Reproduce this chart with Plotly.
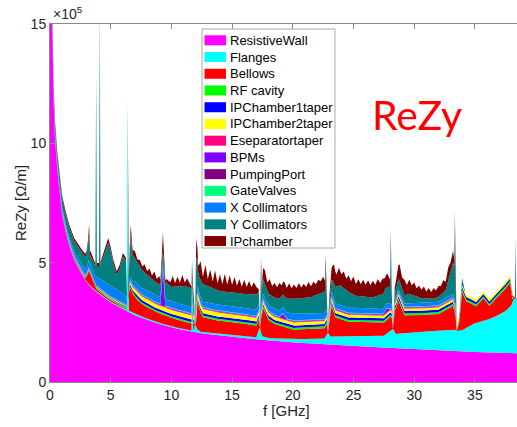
import plotly.graph_objects as go

# ---------------- data ----------------
# frequency in GHz, ReZy in units of 1e5 Ohm/m; each component has its own sampling
f_rw = [0, 0.1, 0.15, 0.2, 0.3, 0.4, 0.5, 0.6, 0.7, 0.8, 1.0, 1.3, 1.6, 2.0, 2.5, 3.0, 3.5, 4.0,
        5.0, 6.0, 7.0, 8.0, 9.0, 10, 12, 14, 16, 18, 20, 23, 26, 30, 34, 38.5]
z_rw = [20, 17, 15.2, 13.8, 11.8, 10.3, 9.5, 8.9, 8.4, 7.9, 7.0, 6.3, 5.7, 5.1, 4.6, 4.2, 3.9, 3.7,
        3.33, 3.05, 2.8, 2.6, 2.43, 2.28, 2.07, 1.95, 1.84, 1.74, 1.66, 1.56, 1.48, 1.37, 1.28, 1.2]

f_fl = [0, 3.0, 6.0, 6.34, 6.4, 6.46, 6.55, 9.0, 11.6, 11.65, 11.7, 11.75, 11.85, 11.95, 12.1, 12.4,
        17.0, 17.2, 17.3, 17.45, 18.0, 20.0, 22.6, 22.9, 23.1, 25.0, 27.5, 28.1, 28.25, 28.5, 30.0,
        32.5, 33.4, 33.5, 34.0, 34.3, 35.0, 36.0, 37.0, 37.5, 38.0, 38.2, 38.5]
z_fl = [0.03, 0.03, 0.04, 0.05, 9.0, 0.1, 0.06, 0.05, 0.05, 0.05, 1.2, 0.1, 0.1, 0.35, 0.15, 0.06,
        0.08, 0.4, 0.5, 0.15, 0.1, 0.13, 0.25, 0.5, 0.35, 0.42, 0.5, 0.75, 0.8, 0.6, 0.72,
        0.85, 0.9, 0.85, 0.9, 1.0, 1.2, 1.35, 1.6, 1.75, 2.0, 2.3, 2.3]

f_be = [0, 2.9, 3.05, 3.2, 3.35, 3.5, 3.7, 4.5, 6.3, 6.4, 6.47, 6.55, 6.65, 6.8, 7.2, 7.6, 8.5, 10.0,
        11.6, 11.85, 11.95, 12.05, 12.15, 12.3, 12.6, 13.5, 15.0, 17.0, 17.2, 17.3, 17.4, 17.55, 17.9,
        18.5, 20.0, 22.5, 22.8, 22.9, 23.0, 23.2, 23.5, 24.5, 27.5, 28.0, 28.15, 28.25, 28.4, 28.7,
        29.2, 30.0, 32.0, 33.2, 33.4, 33.5, 33.7, 33.95, 34.3, 34.6, 35.1, 35.7, 36.2, 36.8, 37.3,
        37.9, 38.1, 38.5]
z_be = [0.03, 0.04, 0.25, 0.55, 0.45, 0.3, 0.1, 0.06, 0.06, 0.0, 0.5, 0.9, 1.0, 0.8, 0.62, 0.52, 0.42, 0.35,
        0.3, 0.25, 0.0, 0.3, 1.2, 0.9, 0.62, 0.55, 0.55, 0.5, 0.45, 0.0, 0.7, 1.2, 0.8,
        0.6, 0.4, 0.42, 0.45, 0.0, 0.6, 1.3, 0.8, 0.6, 0.55, 0.6, 0.5, 0.0, 0.9, 1.4,
        0.75, 0.7, 0.7, 1.0, 0.6, 0.0, 0.3, 1.6, 1.1, 0.95, 0.7, 0.95, 0.55, 0.75, 0.9,
        1.0, 0.1, 0.0]

f_thin = [0, 6.3, 6.4, 6.5, 7.0, 11.85, 11.95, 12.05, 17.2, 17.3, 17.4, 22.8, 22.9, 23.0,
          28.15, 28.25, 28.35, 33.4, 33.5, 33.6, 38.1, 38.2, 38.5]
z_rf = [0.03, 0.04, 0.0, 0.05, 0.07, 0.07, 0.0, 0.07, 0.07, 0.0, 0.07, 0.08, 0.0, 0.08,
        0.08, 0.0, 0.08, 0.08, 0.0, 0.08, 0.08, 0.0, 0.0]
z_ip1 = [0.02, 0.03, 0.0, 0.06, 0.1, 0.1, 0.0, 0.1, 0.1, 0.0, 0.1, 0.1, 0.0, 0.1,
         0.1, 0.0, 0.1, 0.1, 0.0, 0.1, 0.1, 0.0, 0.0]
z_ip2 = [0.02, 0.03, 0.0, 0.08, 0.15, 0.18, 0.0, 0.18, 0.15, 0.0, 0.14, 0.12, 0.0, 0.12,
         0.1, 0.0, 0.1, 0.1, 0.0, 0.1, 0.1, 0.0, 0.0]
z_es = [0.015, 0.015, 0.0, 0.02, 0.03, 0.03, 0.0, 0.03, 0.03, 0.0, 0.03, 0.03, 0.0, 0.03,
        0.03, 0.0, 0.03, 0.03, 0.0, 0.0, 0.0, 0.0, 0.0]

f_bpm = [0, 9.1, 9.2, 9.3, 9.4, 9.5, 18.9, 19.2, 19.5, 27.4, 27.7, 28.0, 33.4, 33.5, 38.5]
z_bpm = [0.01, 0.02, 0.8, 1.5, 0.8, 0.02, 0.02, 0.2, 0.02, 0.02, 0.15, 0.02, 0.02, 0.0, 0.0]

f_pp = [0, 33.4, 33.5, 38.5]
z_pp = [0.015, 0.015, 0.0, 0.0]

f_gv = [0, 33.4, 33.5, 38.5]
z_gv = [0.02, 0.02, 0.0, 0.0]

f_xc = [0, 1.0, 2.0, 3.0, 3.3, 4.0, 5.0, 6.0, 6.3, 6.4, 6.5, 7.0, 8.0, 10.0, 11.85, 11.95, 12.05,
        14.0, 17.2, 17.3, 17.4, 20.0, 22.8, 22.9, 23.0, 25.0, 28.15, 28.25, 28.35, 30.0, 33.4, 33.5, 38.5]
z_xc = [0.08, 0.1, 0.15, 0.25, 0.3, 0.4, 0.45, 0.4, 0.32, 0.0, 0.1, 0.25, 0.28, 0.28, 0.25, 0.0, 0.2,
        0.25, 0.25, 0.0, 0.2, 0.28, 0.25, 0.0, 0.2, 0.22, 0.2, 0.0, 0.1, 0.15, 0.15, 0.0, 0.0]

f_yc = [0, 0.4, 1.0, 2.0, 2.7, 3.0, 3.15, 3.22, 3.3, 3.5, 3.7, 3.74, 3.8, 3.86, 4.0, 4.04, 4.1, 4.16,
        4.3, 4.6, 4.8, 5.0, 5.2, 5.5, 5.75, 6.0, 6.25, 6.34, 6.4, 6.47, 6.65, 6.8, 7.0, 7.4, 8.0, 8.5,
        8.9, 9.3, 9.6, 10.0, 11.0, 11.5, 11.8, 11.95, 12.05, 12.2, 12.6, 13.0, 14.0, 15.0, 16.0, 17.0,
        17.2, 17.3, 17.38, 17.45, 17.5, 18.0, 19.0, 20.0, 21.4, 22.5, 22.65, 22.7, 22.75, 22.9, 23.05,
        23.3, 23.9, 25.2, 26.6, 27.7, 28.02, 28.07, 28.12, 28.25, 28.4, 28.6, 28.8, 29.2, 29.6, 30.5,
        31.5, 32.6, 33.2, 33.3, 33.35, 33.4, 33.5, 33.7, 33.95, 34.2, 38.25, 38.3, 38.35, 38.4, 38.5]
z_yc = [0.3, 0.35, 0.4, 0.45, 0.5, 0.53, 0.8, 1.04, 0.34, 0.34, 0.43, 0.43, 8.6, 0.45, 0.5, 0.5, 11.6, 0.55,
        0.84, 1.41, 1.74, 1.46, 1.02, 0.61, 0.98, 1.54, 1.5, 0.3, 0.0, 0.3, 1.8, 1.1, 0.96, 0.8, 0.67, 0.59,
        0.53, 0.48, 0.71, 0.6, 0.8, 0.8, 0.67, 0.0, 2.0, 0.68, 0.75, 0.7, 0.56, 0.58, 0.58, 0.65,
        0.5, 0.0, 1.9, 0.3, 0.64, 0.48, 0.5, 0.62, 0.67, 0.88, 0.9, 2.0, 0.9, 0.0, 0.3,
        0.61, 0.83, 0.5, 0.46, 0.69, 0.7, 2.9, 0.6, 0.0, 0.3, 0.38, 0.45, 0.35, 0.4, 0.2,
        0.12, 0.32, 1.3, 1.3, 3.5, 1.0, 0.0, 0.0, 0.3, 0.0, 0.0, 0.0, 2.5, 0.0, 0.0]

f_ipc = [0, 1.0, 3.0, 3.15, 3.22, 3.3, 3.7, 4.6, 4.8, 5.0, 6.0, 6.3, 6.4, 6.5, 6.65, 6.8,
         7.0, 7.2, 7.4, 7.6, 7.8, 8.0, 8.2, 8.4, 8.6, 8.8, 9.0, 9.15, 9.3, 9.45, 9.6,
         9.9, 10.1, 10.3, 10.5, 10.7, 10.9, 11.1, 11.3, 11.5, 11.8, 11.95, 12.05, 12.2,
         12.4, 12.6, 12.8, 13.0, 13.2, 13.4, 13.6, 13.8, 14.0, 14.2, 14.4, 14.6, 14.8, 15.0, 15.2,
         15.4, 15.6, 15.8, 16.0, 16.2, 16.4, 16.6, 16.8, 17.0, 17.3,
         17.5, 17.7, 17.9, 18.1, 18.3, 18.5, 18.7, 18.9, 19.1, 19.3, 19.5, 19.7, 19.9, 20.1,
         20.3, 20.5, 20.7, 20.9, 21.1, 21.3, 21.5, 21.7, 21.9, 22.1, 22.3, 22.5, 22.6, 22.9,
         23.2, 23.4, 23.6, 23.8, 24.0, 24.2, 24.4, 24.6, 24.8, 25.0, 25.2, 25.4, 25.6, 25.8,
         26.0, 26.2, 26.4, 26.6, 26.8, 27.0, 27.2, 27.4, 27.6, 27.8, 28.25,
         28.6, 28.8, 29.0, 29.2, 29.4, 29.6, 29.8, 30.0, 30.2, 30.4, 30.6, 30.8, 31.0, 31.2,
         31.4, 31.6, 31.8, 32.0, 32.2, 32.4, 32.6, 32.8, 33.0, 33.2, 33.5, 38.5]
z_ipc = [0.1, 0.1, 0.12, 0.2, 0.5, 0.2, 0.12, 0.15, 0.2, 0.15, 0.15, 0.12, 0.0, 0.1, 0.4, 0.2,
         0.3, 0.15, 0.3, 0.15, 0.35, 0.15, 0.35, 0.15, 0.4, 0.15, 0.35, 0.15, 0.8, 0.15, 0.15,
         0.15, 0.45, 0.15, 0.4, 0.15, 0.45, 0.15, 0.35, 0.15, 0.1, 0.0, 0.8, 0.3,
         0.8, 0.3, 0.85, 0.3, 0.75, 0.3, 0.8, 0.3, 0.7, 0.3, 0.75, 0.3, 0.7, 0.3, 0.65,
         0.3, 0.6, 0.3, 0.6, 0.3, 0.55, 0.3, 0.5, 0.3, 0.0,
         0.4, 0.6, 0.4, 0.65, 0.42, 0.6, 0.45, 0.65, 0.45, 0.6, 0.45, 0.65, 0.45, 0.6,
         0.45, 0.65, 0.45, 0.6, 0.45, 0.65, 0.45, 0.6, 0.45, 0.6, 0.5, 0.65, 0.5, 0.0,
         0.5, 0.8, 0.5, 0.75, 0.5, 0.7, 0.5, 0.7, 0.5, 0.75, 0.5, 0.7, 0.5, 0.7,
         0.5, 0.7, 0.5, 0.7, 0.5, 0.7, 0.5, 0.65, 0.5, 0.55, 0.0,
         0.5, 0.7, 0.45, 0.65, 0.4, 0.6, 0.4, 0.55, 0.35, 0.5, 0.35, 0.5, 0.3, 0.45,
         0.3, 0.45, 0.3, 0.45, 0.35, 0.5, 0.35, 0.55, 0.4, 0.5, 0.0, 0.0]

names = ["ResistiveWall", "Flanges", "Bellows", "RF cavity", "IPChamber1taper", "IPChamber2taper",
         "Eseparatortaper", "BPMs", "PumpingPort", "GateValves", "X Collimators", "Y Collimators",
         "IPchamber"]
colors = ["#FF00FF", "#00FFFF", "#FF0000", "#00FF00", "#0000FF", "#FFFF00",
          "#FF0080", "#8000FF", "#800080", "#00FF80", "#0080FF", "#008080", "#800000"]
series = [(f_rw, z_rw), (f_fl, z_fl), (f_be, z_be), (f_thin, z_rf), (f_thin, z_ip1), (f_thin, z_ip2),
          (f_thin, z_es), (f_bpm, z_bpm), (f_pp, z_pp), (f_gv, z_gv), (f_xc, z_xc), (f_yc, z_yc),
          (f_ipc, z_ipc)]

x_ticks = [0, 5, 10, 15, 20, 25, 30, 35]
y_ticks = [0, 5, 10, 15]

# ---------------- layout constants ----------------
W, H = 517, 427
ML, MR, MT, MB = 50, 0, 24, 45
X_MAX, Y_MAX = 38.47, 15
FONT = "Liberation Sans, Arial, sans-serif"
AX = "#262626"

def px(xp):
    return (xp - ML) / (W - ML - MR)

def py(yp):
    return (H - MB - yp) / (H - MT - MB)

fig = go.Figure()
for name, color, (fx, zv) in zip(names, colors, series):
    fig.add_trace(go.Scatter(
        x=fx, y=zv, name=name, mode="lines",
        line=dict(width=0, color=color), fillcolor=color,
        stackgroup="one", stackgaps="interpolate",
        showlegend=False, hoverinfo="skip"))

shapes = []
annotations = []

# legend box drawn by hand (matches the MATLAB style legend)
LX0, LX1, LY0, LY1 = 202, 335, 29, 248
shapes.append(dict(type="rect", xref="paper", yref="paper",
                   x0=px(LX0), x1=px(LX1), y0=py(LY1), y1=py(LY0),
                   fillcolor="white", line=dict(color="#A8A8A8", width=1), layer="above"))
row0, dy = 40.3, 16.73
for i, (name, color) in enumerate(zip(names, colors)):
    yc = row0 + i * dy
    shapes.append(dict(type="rect", xref="paper", yref="paper",
                       x0=px(204.5), x1=px(226), y0=py(yc + 5), y1=py(yc - 5),
                       fillcolor=color, line=dict(width=0), layer="above"))
    annotations.append(dict(text=name, xref="paper", yref="paper", x=px(228), y=py(yc),
                            xanchor="left", yanchor="middle", showarrow=False,
                            font=dict(family=FONT, size=13, color="black")))

annotations += [
    dict(text="ReZy [Ω/m]", xref="paper", yref="paper", x=px(20), y=py(203), textangle=-90,
         xanchor="center", yanchor="middle", showarrow=False,
         font=dict(family=FONT, size=15, color=AX)),
    dict(text="f [GHz]", xref="paper", yref="paper", x=px(286), y=py(410),
         xanchor="center", yanchor="middle", showarrow=False,
         font=dict(family=FONT, size=15, color=AX)),
    dict(text="×10<sup>5</sup>", xref="paper", yref="paper", x=px(51), y=py(24),
         xanchor="left", yanchor="bottom", showarrow=False,
         font=dict(family=FONT, size=14, color=AX)),
    dict(text="ReZy", xref="paper", yref="paper", x=px(417), y=py(114),
         xanchor="center", yanchor="middle", showarrow=False,
         font=dict(family="Lato, Liberation Sans, sans-serif", size=41, color="#FF0000")),
]

fig.update_layout(
    width=W, height=H, margin=dict(l=ML, r=MR, t=MT, b=MB),
    paper_bgcolor="white", plot_bgcolor="white",
    showlegend=False, shapes=shapes, annotations=annotations,
    xaxis=dict(range=[0, X_MAX], tickvals=x_ticks, ticktext=[str(v) for v in x_ticks],
               ticks="inside", ticklen=5, tickcolor="#8a8a8a", showline=True,
               linecolor="#8a8a8a", linewidth=1, mirror="ticks", showgrid=False, zeroline=False,
               tickfont=dict(family=FONT, size=14, color=AX)),
    yaxis=dict(range=[0, Y_MAX], tickvals=y_ticks, ticktext=[str(v) for v in y_ticks],
               ticks="inside", ticklen=5, tickcolor="#8a8a8a", showline=True,
               linecolor="#8a8a8a", linewidth=1, mirror=False, showgrid=False, zeroline=False,
               tickfont=dict(family=FONT, size=14, color=AX)),
)

fig.write_html("out.html")
